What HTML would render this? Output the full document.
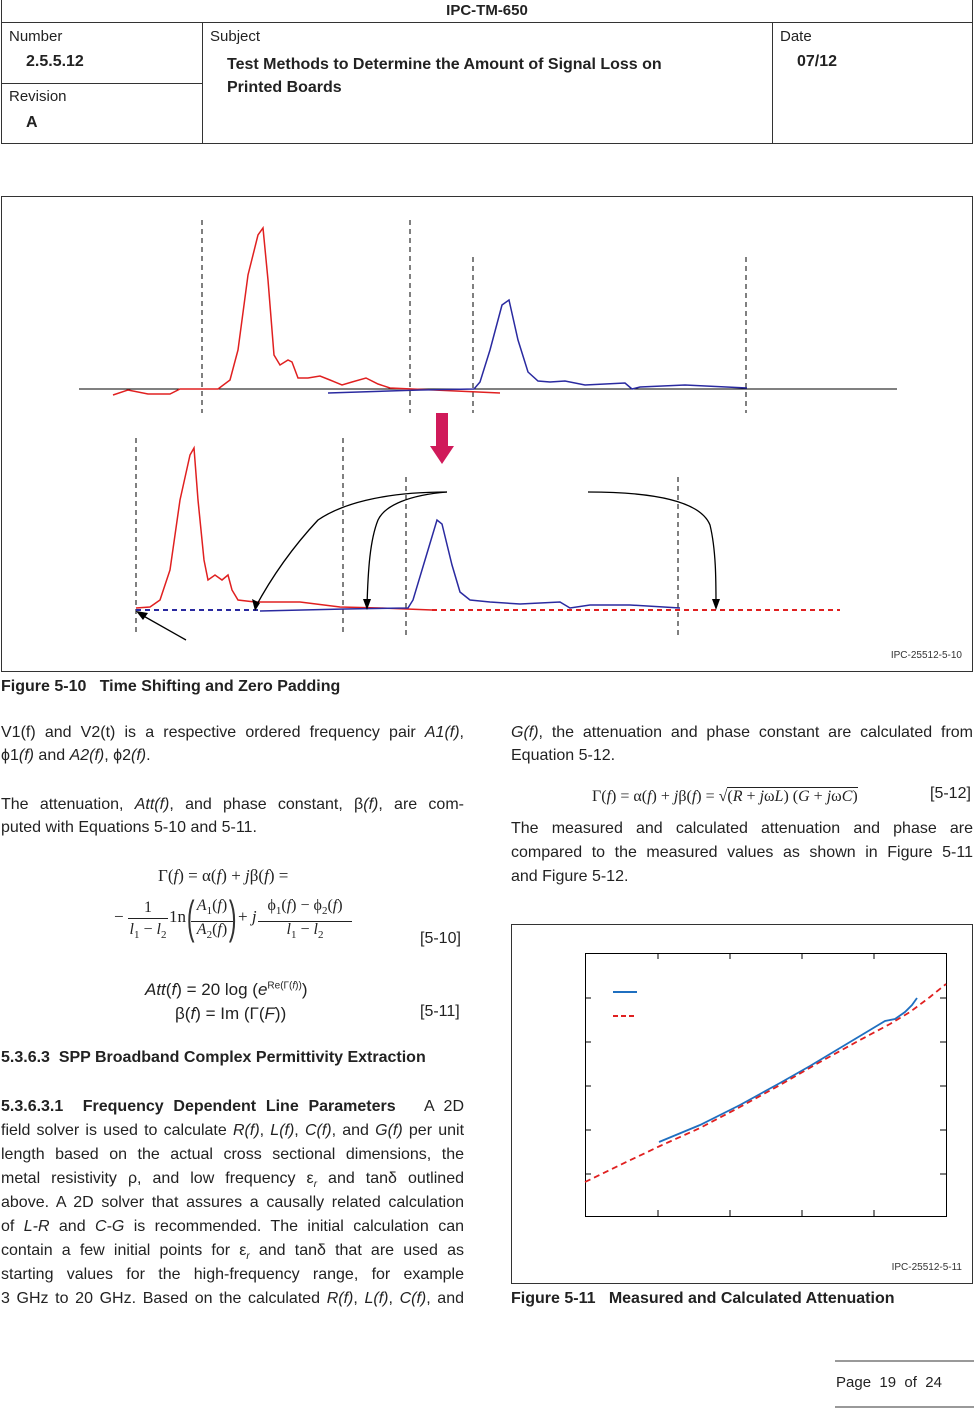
<!DOCTYPE html>
<html><head><meta charset="utf-8"><style>
body{margin:0;width:974px;height:1408px;background:#fff;position:relative;font-family:"Liberation Sans",sans-serif;color:#222;overflow:hidden}
.a{position:absolute;white-space:nowrap}
.j{position:absolute;font-size:16px;text-align:justify;text-align-last:justify;white-space:nowrap;height:20px;line-height:20px}
.b{font-weight:bold}
.s{font-family:"Liberation Serif",serif}
</style></head><body>
<!-- header table -->
<div class="a" style="left:1px;top:0;width:972px;height:144px;border:1px solid #333;border-top:none;box-sizing:border-box"></div>
<div class="a" style="left:1px;top:22px;width:972px;border-top:1px solid #333"></div>
<div class="a" style="left:202px;top:22px;height:122px;border-left:1px solid #333"></div>
<div class="a" style="left:772px;top:22px;height:122px;border-left:1px solid #333"></div>
<div class="a" style="left:1px;top:83px;width:201px;border-top:1px solid #333"></div>
<div class="a" style="left:0;top:2px;width:974px;text-align:center;font-size:15px" class="b"><b>IPC-TM-650</b></div>
<div class="a" style="left:9px;top:28px;font-size:15px">Number</div>
<div class="a b" style="left:26px;top:53px;font-size:16px">2.5.5.12</div>
<div class="a" style="left:9px;top:88px;font-size:15px">Revision</div>
<div class="a b" style="left:26px;top:114px;font-size:16px">A</div>
<div class="a" style="left:210px;top:28px;font-size:15px">Subject</div>
<div class="a b" style="left:227px;top:53px;font-size:16px;line-height:23px">Test Methods to Determine the Amount of Signal Loss on<br>Printed Boards</div>
<div class="a" style="left:780px;top:28px;font-size:15px">Date</div>
<div class="a b" style="left:797px;top:53px;font-size:16px">07/12</div>

<!-- figure 5-10 -->
<svg class="a" style="left:0;top:0" width="974" height="1408">
<rect x="1.5" y="196.5" width="971" height="475" fill="none" stroke="#333"/>
<line x1="79" y1="389" x2="897" y2="389" stroke="#000"/>
<g stroke="#000" stroke-dasharray="5,4">
<line x1="202" y1="220" x2="202" y2="413"/><line x1="410" y1="220" x2="410" y2="413"/>
<line x1="473" y1="257" x2="473" y2="413"/><line x1="746" y1="257" x2="746" y2="413"/>
<line x1="136" y1="438" x2="136" y2="636"/><line x1="343" y1="438" x2="343" y2="636"/>
<line x1="406" y1="477" x2="406" y2="636"/><line x1="678" y1="477" x2="678" y2="636"/>
</g>
<polyline fill="none" stroke="#e02020" stroke-width="1.5" points="113,395 128,390 148,394 170,394 180,389 218,389 230,380 238,350 248,275 258,235 263,228 268,280 274,355 280,365 288,360 292,362 298,378 308,378 320,376 330,380 342,385 352,382 366,378 378,384 390,388 500,393"/>
<polyline fill="none" stroke="#2a2aa0" stroke-width="1.5" points="328,393 420,390 474,389 480,382 490,350 502,305 509,300 518,340 528,372 538,381 550,382 565,381 585,385 625,383 632,389 640,387 685,385 747,388"/>
<polygon points="436,413 448,413 448,446 454,446 442,464 430,446 436,446" fill="#d01a5a"/>
<polyline fill="none" stroke="#e02020" stroke-width="1.5" points="136,608 150,607 160,600 170,570 180,500 190,455 194,448 198,500 204,560 208,580 215,575 222,580 228,575 232,590 238,600 255,602 300,602 340,607 380,608 432,610"/>
<polyline fill="none" stroke="#2a2aa0" stroke-width="1.5" points="260,611 345,609 408,608 413,600 425,560 437,520 442,524 452,565 460,592 470,600 490,602 520,604 560,602 570,608 590,605 630,605 680,608"/>
<line x1="136" y1="610" x2="260" y2="610" stroke="#2a2aa0" stroke-width="2" stroke-dasharray="5,4"/>
<line x1="432" y1="610" x2="840" y2="610" stroke="#e02020" stroke-width="2" stroke-dasharray="5,4"/>
<g fill="none" stroke="#000" stroke-width="1.3">
<path d="M447,492 C380,492 340,505 318,520 C290,550 270,580 255,608"/>
<path d="M447,492 C410,495 385,505 378,520 C370,540 368,570 367,606"/>
<path d="M588,492 C650,492 700,500 710,525 C716,550 716,580 716,606"/>
<line x1="186" y1="640" x2="140" y2="614"/>
</g>
<g fill="#000"><polygon points="255,611 252,599 260,603"/><polygon points="367,610 363,599 371,599"/><polygon points="716,610 712,599 720,599"/><polygon points="136,611 148,613 143,620"/></g>
<text x="962" y="658" font-size="10" text-anchor="end" font-family="Liberation Sans" fill="#333">IPC-25512-5-10</text>

<!-- figure 5-11 -->
<rect x="511.5" y="924.5" width="461" height="359" fill="none" stroke="#333"/>
<rect x="585.5" y="953.5" width="361" height="263" fill="none" stroke="#000"/>
<g stroke="#000">
<line x1="658" y1="953" x2="658" y2="959"/><line x1="730" y1="953" x2="730" y2="959"/><line x1="802" y1="953" x2="802" y2="959"/><line x1="874" y1="953" x2="874" y2="959"/>
<line x1="658" y1="1216" x2="658" y2="1210"/><line x1="730" y1="1216" x2="730" y2="1210"/><line x1="802" y1="1216" x2="802" y2="1210"/><line x1="874" y1="1216" x2="874" y2="1210"/>
<line x1="585" y1="998" x2="591" y2="998"/><line x1="585" y1="1042" x2="591" y2="1042"/><line x1="585" y1="1086" x2="591" y2="1086"/><line x1="585" y1="1130" x2="591" y2="1130"/><line x1="585" y1="1174" x2="591" y2="1174"/>
<line x1="946" y1="998" x2="940" y2="998"/><line x1="946" y1="1042" x2="940" y2="1042"/><line x1="946" y1="1086" x2="940" y2="1086"/><line x1="946" y1="1130" x2="940" y2="1130"/><line x1="946" y1="1174" x2="940" y2="1174"/>
</g>
<line x1="613" y1="992" x2="637" y2="992" stroke="#1f6fc0" stroke-width="2"/>
<line x1="613" y1="1016" x2="637" y2="1016" stroke="#e02020" stroke-width="2" stroke-dasharray="5,3"/>
<polyline fill="none" stroke="#1f6fc0" stroke-width="1.8" points="659,1142 700,1125 740,1105 780,1083 810,1066 840,1048 870,1030 885,1021 895,1019 905,1012 912,1005 917,998"/>
<polyline fill="none" stroke="#e02020" stroke-width="1.8" stroke-dasharray="6,4" points="585,1182 620,1165 660,1146 700,1128 740,1107 780,1085 820,1062 860,1040 890,1024 910,1012 930,997 946,984"/>
<text x="962" y="1270" font-size="10" text-anchor="end" font-family="Liberation Sans" fill="#333">IPC-25512-5-11</text>
<line x1="835" y1="1361" x2="974" y2="1361" stroke="#333"/>
<line x1="835" y1="1407" x2="974" y2="1407" stroke="#333"/>
</svg>

<div class="a b" style="left:1px;top:678px;font-size:16px">Figure 5-10&nbsp;&nbsp;&nbsp;Time Shifting and Zero Padding</div>
<div class="a b" style="left:511px;top:1290px;font-size:16px">Figure 5-11&nbsp;&nbsp;&nbsp;Measured and Calculated Attenuation</div>

<!-- left column -->
<div class="j" style="left:1px;top:723px;width:463px">V1(f) and V2(t) is a respective ordered frequency pair <i>A1(f)</i>,</div>
<div class="a" style="left:1px;top:747px;font-size:16px">ϕ1<i>(f)</i> and <i>A2(f)</i>, ϕ2<i>(f)</i>.</div>
<div class="j" style="left:1px;top:795px;width:463px">The attenuation, <i>Att(f)</i>, and phase constant, β<i>(f)</i>, are com-</div>
<div class="a" style="left:1px;top:819px;font-size:16px">puted with Equations 5-10 and 5-11.</div>

<div class="a s" style="left:158px;top:866px;font-size:17px">Γ(<i>f</i>) = α(<i>f</i>) + <i>j</i>β(<i>f</i>) =</div>
<div class="a s" style="left:114px;top:907px;font-size:17px">−</div>
<div class="a s" style="left:128px;top:898px;font-size:16px;width:40px;text-align:center;border-bottom:1px solid #222;line-height:20px">1</div>
<div class="a s" style="left:127px;top:921px;font-size:16px;width:42px;text-align:center"><i>l</i><sub style="font-size:11px">1</sub> − <i>l</i><sub style="font-size:11px">2</sub></div>
<div class="a s" style="left:169px;top:907px;font-size:17px">1n</div>
<div class="a" style="left:183px;top:890px;font-size:46px;font-weight:100;transform:scaleX(0.5);color:#333">(</div>
<div class="a s" style="left:191px;top:896px;font-size:16px;width:42px;text-align:center;border-bottom:1px solid #222;line-height:20px"><i>A</i><sub style="font-size:11px">1</sub>(<i>f</i>)</div>
<div class="a s" style="left:191px;top:921px;font-size:16px;width:42px;text-align:center"><i>A</i><sub style="font-size:11px">2</sub>(<i>f</i>)</div>
<div class="a" style="left:225px;top:890px;font-size:46px;transform:scaleX(0.5);color:#333">)</div>
<div class="a s" style="left:238px;top:907px;font-size:17px">+ <i>j</i></div>
<div class="a s" style="left:258px;top:896px;font-size:16px;width:94px;text-align:center;border-bottom:1px solid #222;line-height:20px">ϕ<sub style="font-size:11px">1</sub>(<i>f</i>) − ϕ<sub style="font-size:11px">2</sub>(<i>f</i>)</div>
<div class="a s" style="left:258px;top:921px;font-size:16px;width:94px;text-align:center"><i>l</i><sub style="font-size:11px">1</sub> − <i>l</i><sub style="font-size:11px">2</sub></div>
<div class="a" style="left:420px;top:930px;font-size:16px">[5-10]</div>
<div class="a" style="left:145px;top:980px;font-size:17px"><i>Att</i>(<i>f</i>) = 20 log (<i>e</i><sup style="font-size:10px">Re(Γ(<i>f</i>))</sup>)</div>
<div class="a" style="left:175px;top:1004px;font-size:17px">β(<i>f</i>) = Im (Γ(<i>F</i>))</div>
<div class="a" style="left:420px;top:1003px;font-size:16px">[5-11]</div>

<div class="a b" style="left:1px;top:1049px;font-size:16px">5.3.6.3&nbsp;&nbsp;SPP Broadband Complex Permittivity Extraction</div>
<div class="j" style="left:1px;top:1097px;width:463px"><b>5.3.6.3.1&nbsp;&nbsp;Frequency Dependent Line Parameters</b>&nbsp;&nbsp; A 2D</div>
<div class="j" style="left:1px;top:1121px;width:463px">field solver is used to calculate <i>R(f)</i>, <i>L(f)</i>, <i>C(f)</i>, and <i>G(f)</i> per unit</div>
<div class="j" style="left:1px;top:1145px;width:463px">length based on the actual cross sectional dimensions, the</div>
<div class="j" style="left:1px;top:1169px;width:463px">metal resistivity ρ, and low frequency ε<sub style="font-size:10px"><i>r</i></sub> and tanδ outlined</div>
<div class="j" style="left:1px;top:1193px;width:463px">above. A 2D solver that assures a causally related calculation</div>
<div class="j" style="left:1px;top:1217px;width:463px">of <i>L-R</i> and <i>C-G</i> is recommended. The initial calculation can</div>
<div class="j" style="left:1px;top:1241px;width:463px">contain a few initial points for ε<sub style="font-size:10px"><i>r</i></sub> and tanδ that are used as</div>
<div class="j" style="left:1px;top:1265px;width:463px">starting values for the high-frequency range, for example</div>
<div class="j" style="left:1px;top:1289px;width:463px">3 GHz to 20 GHz. Based on the calculated <i>R(f)</i>, <i>L(f)</i>, <i>C(f)</i>, and</div>

<!-- right column -->
<div class="j" style="left:511px;top:723px;width:462px"><i>G(f)</i>, the attenuation and phase constant are calculated from</div>
<div class="a" style="left:511px;top:747px;font-size:16px">Equation 5-12.</div>
<div class="a s" style="left:592px;top:788px;font-size:16px">Γ(<i>f</i>) = α(<i>f</i>) + <i>j</i>β(<i>f</i>) = √<span style="border-top:1px solid #222">(<i>R</i> + <i>j</i>ω<i>L</i>) (<i>G</i> + <i>j</i>ω<i>C</i>)</span></div>
<div class="a" style="left:930px;top:785px;font-size:16px">[5-12]</div>
<div class="j" style="left:511px;top:819px;width:462px">The measured and calculated attenuation and phase are</div>
<div class="j" style="left:511px;top:843px;width:462px">compared to the measured values as shown in Figure 5-11</div>
<div class="a" style="left:511px;top:867px;font-size:16px;line-height:20px">and Figure 5-12.</div>

<div class="a" style="left:836px;top:1374px;font-size:15px">Page&nbsp; 19&nbsp; of&nbsp; 24</div>
</body></html>
